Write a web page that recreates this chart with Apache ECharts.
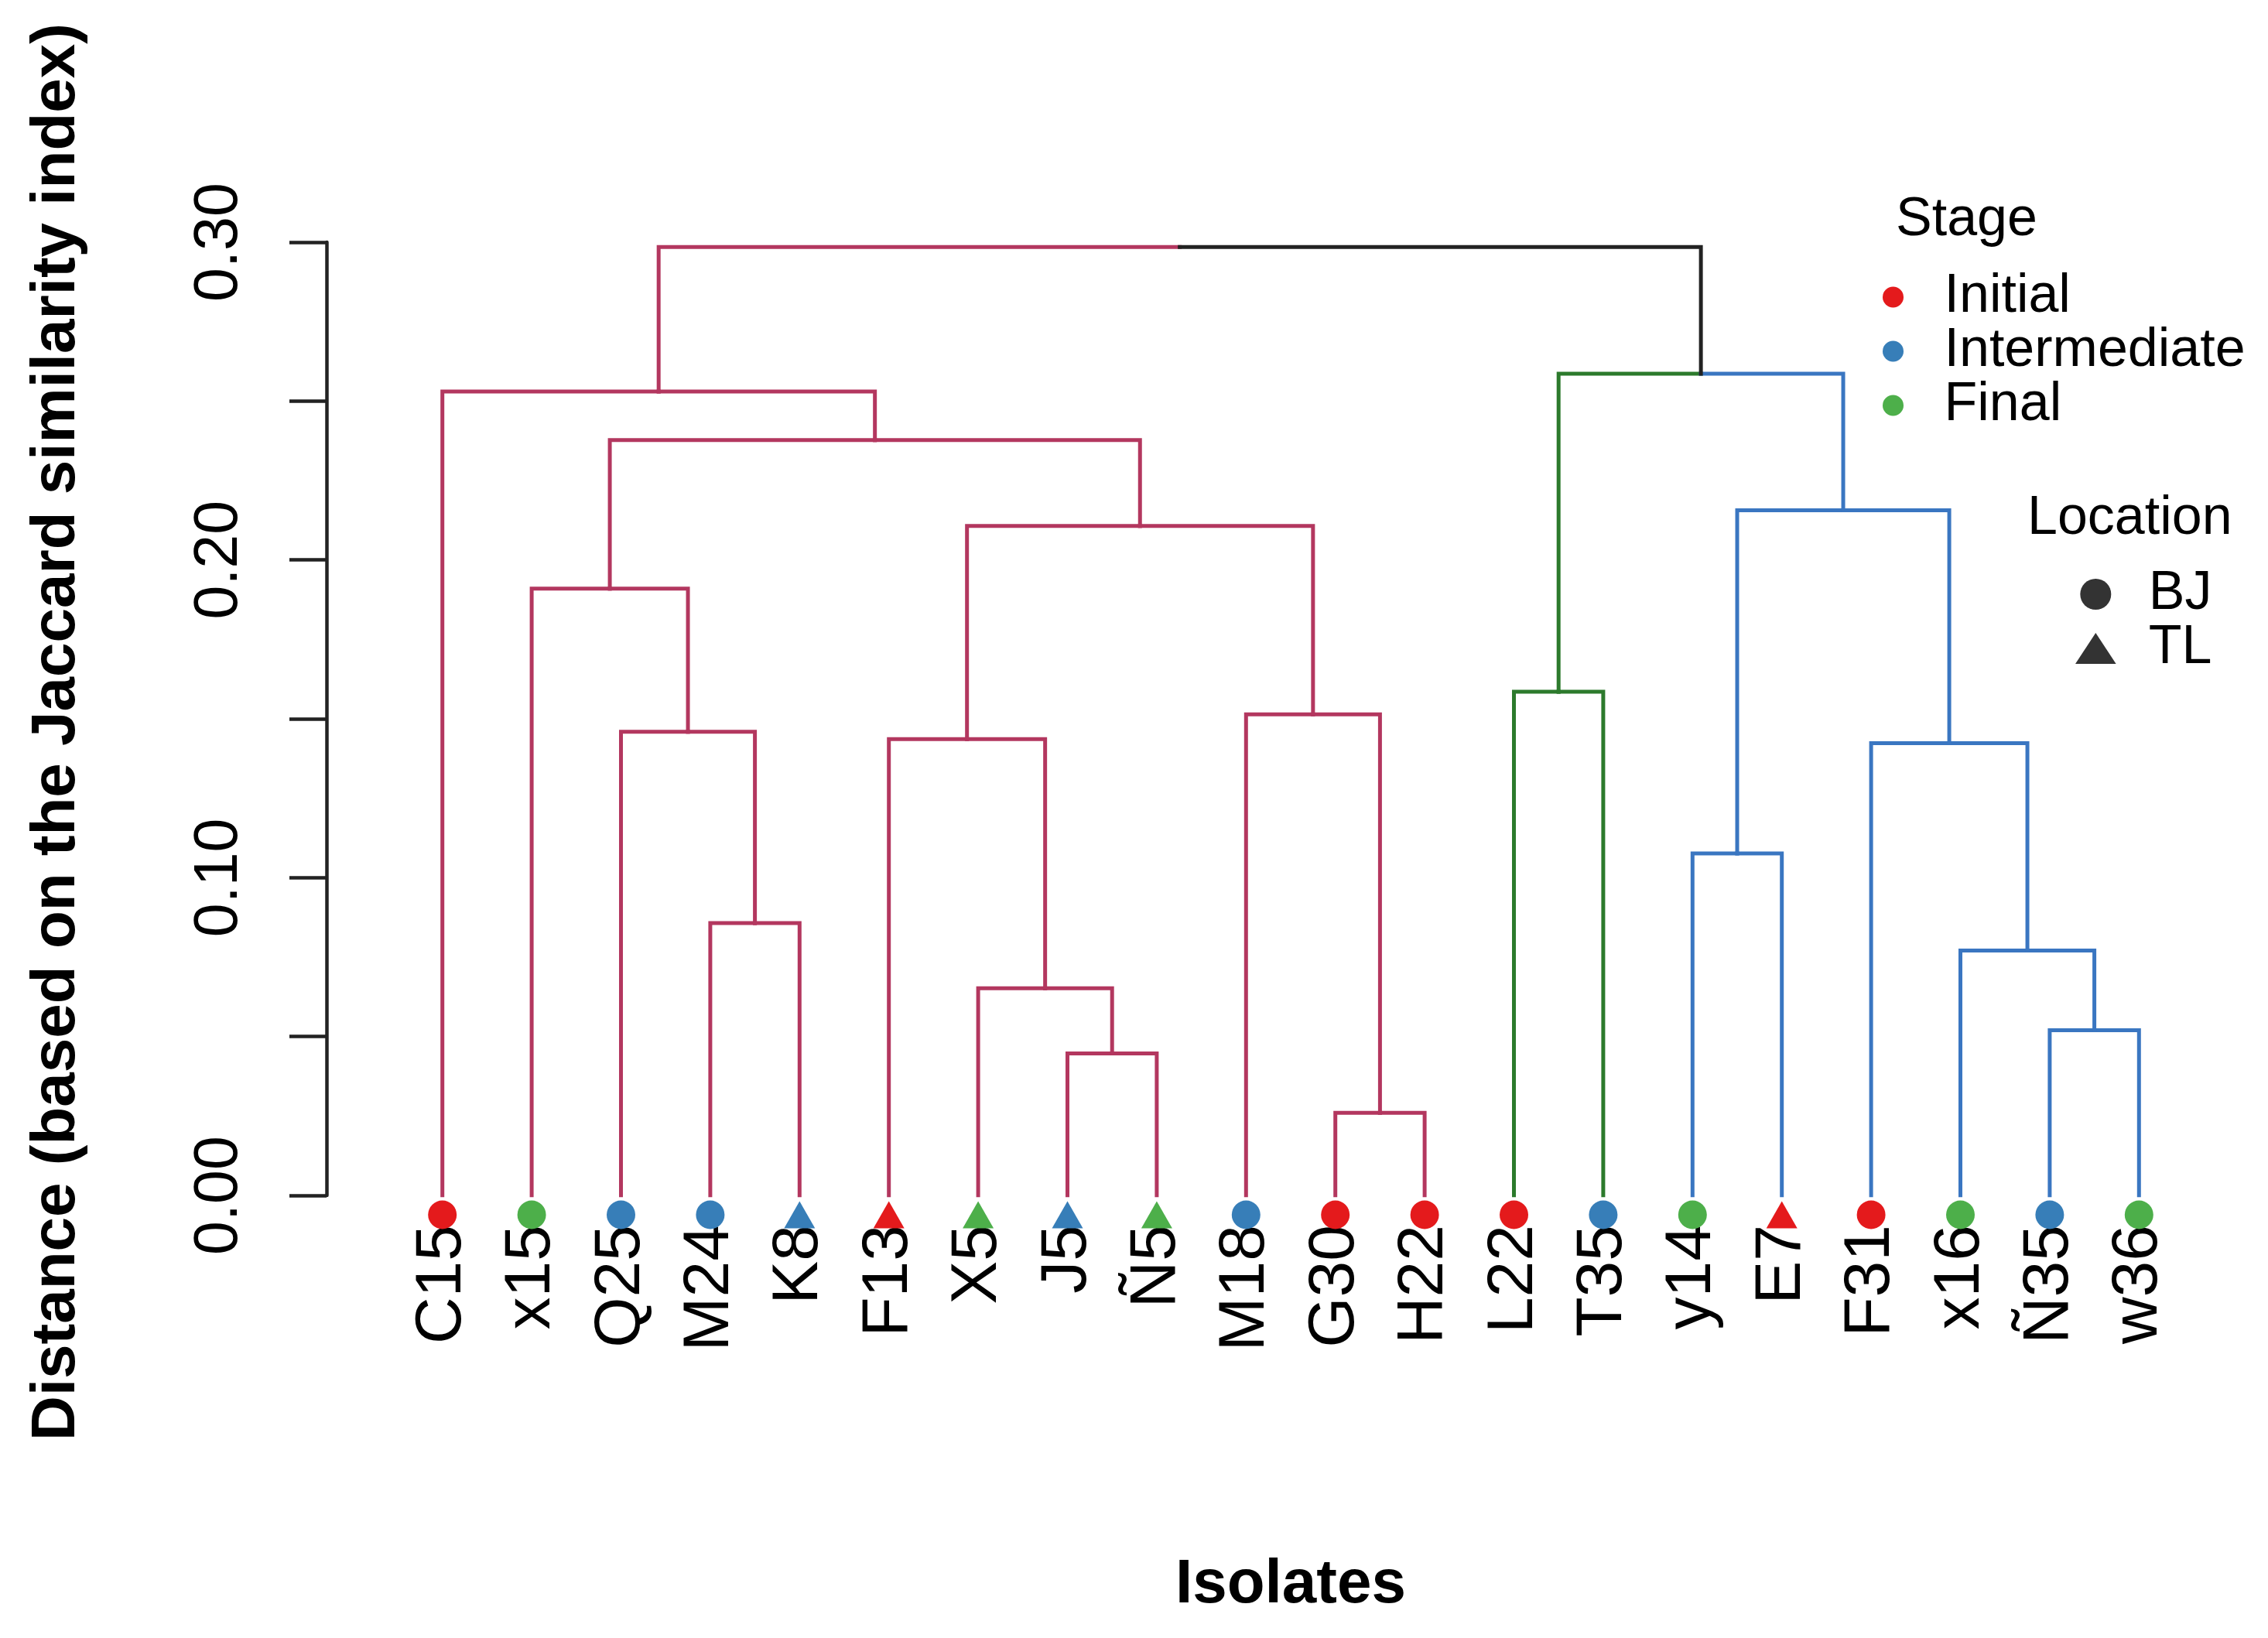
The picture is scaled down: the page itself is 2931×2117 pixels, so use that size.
<!DOCTYPE html>
<html>
<head>
<meta charset="utf-8">
<title>Dendrogram of isolates</title>
<script src="https://cdn.jsdelivr.net/npm/echarts@6/dist/echarts.min.js"></script>
<style>
  html, body { margin: 0; padding: 0; background: #fff; }
  #chart { width: 2931px; height: 2117px; }
</style>
</head>
<body>
<div id="chart"></div>
<script>
// leaves in plotting order
var leaves = ['C15', 'x15', 'Q25', 'M24', 'K8', 'F13', 'X5', 'J5', 'Ñ5', 'M18',
  'G30', 'H22', 'L22', 'T35', 'y14', 'E7', 'F31', 'x16', 'Ñ35', 'w36'];
var leafStage = ['Initial', 'Final', 'Intermediate', 'Intermediate', 'Intermediate',
  'Initial', 'Final', 'Intermediate', 'Final', 'Intermediate',
  'Initial', 'Initial', 'Initial', 'Intermediate', 'Final',
  'Initial', 'Initial', 'Final', 'Intermediate', 'Final'];
var leafLocation = ['BJ', 'BJ', 'BJ', 'BJ', 'TL', 'TL', 'TL', 'TL', 'TL', 'BJ',
  'BJ', 'BJ', 'BJ', 'BJ', 'BJ', 'TL', 'BJ', 'BJ', 'BJ', 'BJ'];
// cluster (k = 3) of each leaf, used for branch colours
var leafCluster = [0, 0, 0, 0, 0, 0, 0, 0, 0, 0, 0, 0, 1, 1, 2, 2, 2, 2, 2, 2];

// merge table like hclust: negative = leaf number, positive = merge row
var merges = [
  [-11, -12], [-8, -9], [-19, -20], [-7, 2], [-18, 3], [-4, -5], [-15, -16],
  [-17, 5], [-6, 4], [-3, 6], [-10, 1], [-13, -14], [-2, 10], [9, 11],
  [7, 8], [13, 14], [-1, 16], [12, 15], [17, 18]
];
var mergeHeights = [0.026, 0.0447, 0.052, 0.0652, 0.0771, 0.0857, 0.1076,
  0.1423, 0.1436, 0.1459, 0.1514, 0.1585, 0.191, 0.2107,
  0.2156, 0.2377, 0.253, 0.2586, 0.2985];

var stages = ['Initial', 'Intermediate', 'Final'];
var stageColors = ['#E41A1C', '#377EB8', '#4DAF4A'];
var branchColors = ['#B3375F', '#2C7A2C', '#3A76C1'];
var rootColor = '#222222';
var font = 'Liberation Sans, Arial, sans-serif';
var triPath = 'path://M0,38L25,0L50,38Z';

// ---- dendrogram geometry from the merge table ----
var mergeX = [], mergeGroup = [];
function nodeX(r) { return r < 0 ? -r : mergeX[r - 1]; }
function nodeH(r) { return r < 0 ? 0 : mergeHeights[r - 1]; }
function nodeGroup(r) { return r < 0 ? leafCluster[-r - 1] : mergeGroup[r - 1]; }
merges.forEach(function (m, i) {
  mergeX[i] = (nodeX(m[0]) + nodeX(m[1])) / 2;
  var ga = nodeGroup(m[0]), gb = nodeGroup(m[1]);
  mergeGroup[i] = ga === gb ? ga : -1;
});
var edges = [];
merges.forEach(function (m, i) {
  m.forEach(function (c) {
    var g = nodeGroup(c);
    edges.push({
      coords: [[mergeX[i], mergeHeights[i]], [nodeX(c), mergeHeights[i]], [nodeX(c), nodeH(c)]],
      lineStyle: { color: g < 0 ? rootColor : branchColors[g] }
    });
  });
});

var series = [{
  type: 'lines',
  coordinateSystem: 'cartesian2d',
  xAxisIndex: 0,
  yAxisIndex: 0,
  polyline: true,
  silent: true,
  z: 2,
  lineStyle: { width: 5, opacity: 1, cap: 'square', join: 'miter' },
  data: edges
}];
stages.forEach(function (s, si) {
  var pts = [];
  leaves.forEach(function (name, i) {
    if (leafStage[i] !== s) return;
    var tl = leafLocation[i] === 'TL';
    pts.push({
      name: name,
      value: [i + 1, 0],
      symbol: tl ? 'triangle' : 'circle',
      symbolSize: tl ? [40, 35] : 37
    });
  });
  series.push({
    name: s,
    type: 'scatter',
    xAxisIndex: 0,
    yAxisIndex: 0,
    clip: false,
    z: 5,
    symbolOffset: [0, 25],
    itemStyle: { color: stageColors[si], opacity: 1 },
    data: pts
  });
});
// empty series, only for the Location legend
series.push({ name: 'BJ', type: 'scatter', data: [], itemStyle: { color: '#000' } });
series.push({ name: 'TL', type: 'scatter', data: [], itemStyle: { color: '#000' } });

var chart = echarts.init(document.getElementById('chart'));
chart.setOption({
  animation: false,
  backgroundColor: '#ffffff',
  textStyle: { fontFamily: font },
  title: [
    { text: 'Stage', left: 2450, top: 250, padding: 0,
      textStyle: { fontFamily: font, fontSize: 70, lineHeight: 70, fontWeight: 'normal', color: '#000' } },
    { text: 'Location', left: 2620, top: 636, padding: 0,
      textStyle: { fontFamily: font, fontSize: 70, lineHeight: 70, fontWeight: 'normal', color: '#000' } }
  ],
  legend: [{
    orient: 'vertical',
    left: 2433,
    top: 349,
    padding: 0,
    itemGap: 0,
    itemWidth: 122,
    itemHeight: 27,
    selectedMode: false,
    data: stages.map(function (s) { return { name: s, icon: 'circle' }; }),
    textStyle: { fontFamily: font, fontSize: 70, lineHeight: 67.5, color: '#000' }
  }, {
    orient: 'vertical',
    left: 2682,
    top: 733,
    padding: 0,
    itemGap: 0,
    itemWidth: 127,
    itemHeight: 40,
    symbolKeepAspect: true,
    selectedMode: false,
    data: [
      { name: 'BJ', icon: 'circle', itemStyle: { color: '#000' } },
      { name: 'TL', icon: triPath, itemStyle: { color: '#000' } }
    ],
    textStyle: { fontFamily: font, fontSize: 70, lineHeight: 69, color: '#000' }
  }],
  grid: { left: 514, right: 109, top: 313, bottom: 572, outerBoundsMode: 'none' },
  xAxis: [{
    type: 'value',
    min: 0.5,
    max: 20.5,
    show: false
  }, {
    type: 'category',
    data: leaves,
    position: 'bottom',
    boundaryGap: true,
    axisLine: { show: false },
    axisTick: { show: false },
    splitLine: { show: false },
    axisLabel: {
      interval: 0,
      rotate: 90,
      margin: 38,
      fontFamily: font,
      fontSize: 84,
      color: '#000'
    },
    name: 'Isolates',
    nameLocation: 'middle',
    nameGap: 464,
    nameTextStyle: { fontFamily: font, fontSize: 80, lineHeight: 80, fontWeight: 'bold', color: '#000' }
  }],
  yAxis: {
    type: 'value',
    min: 0,
    max: 0.3,
    interval: 0.05,
    offset: 92,
    splitLine: { show: false },
    axisLine: { show: true, lineStyle: { color: '#222', width: 4.5 } },
    axisTick: { show: true, inside: false, length: 48, lineStyle: { color: '#222', width: 4.5 } },
    axisLabel: {
      rotate: 90,
      margin: 98,
      fontFamily: font,
      fontSize: 79,
      lineHeight: 79,
      color: '#000',
      formatter: function (v) {
        return Math.round(v * 100) % 10 === 0 ? v.toFixed(2) : '';
      }
    },
    name: 'Distance (based on the Jaccard similarity index)',
    nameLocation: 'middle',
    nameRotate: 90,
    nameGap: 308,
    nameTextStyle: {
      fontFamily: font, fontSize: 80, lineHeight: 80, fontWeight: 'bold', color: '#000',
      padding: [0, 34, 0, 0]
    }
  },
  series: series
});
</script>
</body>
</html>
